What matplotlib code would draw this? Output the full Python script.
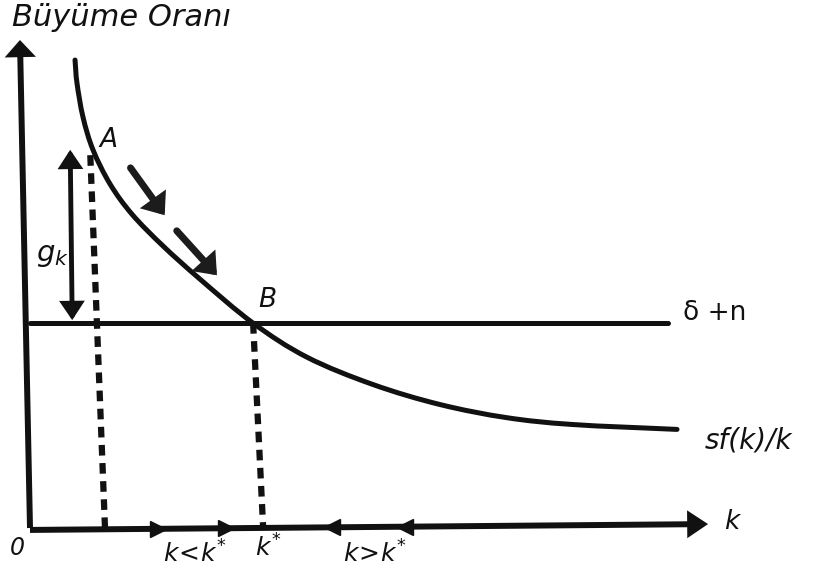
import matplotlib
matplotlib.use("Agg")
import matplotlib.pyplot as plt
import numpy as np
from matplotlib.path import Path
from matplotlib.patches import PathPatch

plt.rcParams['font.family'] = ['DejaVu Sans']
plt.rcParams['mathtext.fontset'] = 'dejavusans'

# ---- data (schematic Solow diagram) ----
curve_k = [6.72, 7.01, 7.91, 9.40, 11.94, 15.22, 19.85, 25.37, 33.28, 41.34,
           51.19, 61.19, 71.19, 81.04, 96.57]
curve_g = [95.9, 91.2, 84.2, 77.5, 70.5, 64.3, 57.8, 51.0, 42.0, 35.0,
           29.4, 25.3, 22.6, 21.2, 20.2]
dn_level = 42.0           # delta + n
dn_k_end = 95.2
k_A, g_A = 9.0, 76.4      # point A
k_A_foot = 11.2
k_B, g_B = 33.3, 42.0     # point B (k*)
k_B_foot = 34.8
gk_k = [6.0, 6.3]         # g_k double arrow
gk_g = [77.5, 42.6]
dir1_k, dir1_g = [15.0, 20.1], [73.8, 64.1]
dir2_k, dir2_g = [21.9, 27.9], [60.9, 51.8]
xaxis_k, xaxis_g = [0.0, 101.2], [-0.4, 0.8]
yaxis_k, yaxis_g = [0.0, -1.5], [0.0, 100.0]
right_marks_k = [19.1, 29.25]
left_marks_k = [45.1, 56.0]

INK = '#111111'

fig = plt.figure(figsize=(8.2, 5.78), dpi=100)
ax = fig.add_axes([0, 0, 1, 1])
ax.set_xlim(-4.478, 117.91)
ax.set_ylim(-10.25, 108.2)
ax.axis('off')

# axes with arrows
ax.annotate('', xy=(xaxis_k[1], xaxis_g[1]), xytext=(xaxis_k[0], xaxis_g[0]),
            arrowprops=dict(arrowstyle='-|>,head_length=0.45,head_width=0.3', lw=4.3,
                            color=INK, mutation_scale=20, shrinkA=0, shrinkB=0,
                            joinstyle='miter', capstyle='butt'))
ax.annotate('', xy=(yaxis_k[1], yaxis_g[1]), xytext=(yaxis_k[0], yaxis_g[0]),
            arrowprops=dict(arrowstyle='-|>,head_length=0.35,head_width=0.32', lw=4.3,
                            color=INK, mutation_scale=20, shrinkA=0, shrinkB=0,
                            joinstyle='miter', capstyle='butt'))

# delta + n line
ax.plot([0, dn_k_end], [dn_level, dn_level], color=INK, lw=3.6, solid_capstyle='round')

# smooth sf(k)/k curve (Catmull-Rom through the read points)
pts = np.column_stack([curve_k, curve_g])
ext = np.vstack([pts[0] * 2 - pts[1], pts, pts[-1] * 2 - pts[-2]])
verts = [pts[0]]
codes = [Path.MOVETO]
for i in range(1, len(ext) - 2):
    p0, p1, p2, p3 = ext[i - 1], ext[i], ext[i + 1], ext[i + 2]
    verts += [p1 + (p2 - p0) / 6, p2 - (p3 - p1) / 6, p2]
    codes += [Path.CURVE4] * 3
ax.add_patch(PathPatch(Path(verts, codes), fill=False, lw=3.6, edgecolor=INK,
                       capstyle='round', transform=ax.transData))

# dotted drop lines
for (k0, g0, k1) in [(k_A, g_A, k_A_foot), (k_B, g_B, k_B_foot)]:
    ax.plot([k0, k1], [g0, np.interp(k1, xaxis_k, xaxis_g)],
            color=INK, lw=4.5, linestyle=(0, (1.7, 1.2)), dash_capstyle='butt')

# g_k double arrow
ax.annotate('', xy=(gk_k[1], gk_g[1]), xytext=(gk_k[0], gk_g[0]),
            arrowprops=dict(arrowstyle='<|-|>,head_length=0.45,head_width=0.3', lw=3.5,
                            color=INK, mutation_scale=20, shrinkA=0, shrinkB=0,
                            joinstyle='miter'))

# direction arrows along the curve
for dk, dg in [(dir1_k, dir1_g), (dir2_k, dir2_g)]:
    ax.annotate('', xy=(dk[1], dg[1]), xytext=(dk[0], dg[0]),
                arrowprops=dict(arrowstyle='-|>,head_length=0.4,head_width=0.32', lw=5,
                                color='#1c1c1c', mutation_scale=20, shrinkA=0, shrinkB=0,
                                joinstyle='miter', capstyle='round'))

# direction marks on k-axis
ax.plot(right_marks_k, np.interp(right_marks_k, xaxis_k, xaxis_g), ls='none', marker='>',
        ms=11, color=INK)
ax.plot(left_marks_k, np.interp(left_marks_k, xaxis_k, xaxis_g), ls='none', marker='<',
        ms=11, color=INK)

# texts
ax.text(-2.69, 104.7, 'Büyüme Oranı', fontsize=22, style='italic', color=INK,
        ha='left', va='center')
ax.text(11.64, 79.5, 'A', fontsize=19, style='italic', color=INK, ha='center', va='center')
ax.text(35.5, 46.7, 'B', fontsize=19, style='italic', color=INK, ha='center', va='center')
ax.text(3.3, 55.9, r'$g_k$', fontsize=21, color=INK, ha='center', va='center')
ax.text(97.5, 44.0, 'δ +n', fontsize=19, color=INK, ha='left', va='center')
ax.text(100.7, 18.0, 'sf(k)/k', fontsize=20, style='italic', color=INK, ha='left', va='center')
ax.text(-1.94, -4.1, '0', fontsize=17, style='italic', color=INK, ha='center', va='center')
ax.text(24.6, -5.3, r'$k\!<\!k^{*}$', fontsize=18, color=INK, ha='center', va='center')
ax.text(35.5, -4.1, r'$k^{*}$', fontsize=18, color=INK, ha='center', va='center')
ax.text(51.5, -5.3, r'$k\!>\!k^{*}$', fontsize=18, color=INK, ha='center', va='center')
ax.text(104.9, 1.2, r'$k$', fontsize=19, color=INK, ha='center', va='center')

fig.savefig('out.png', dpi=100)
